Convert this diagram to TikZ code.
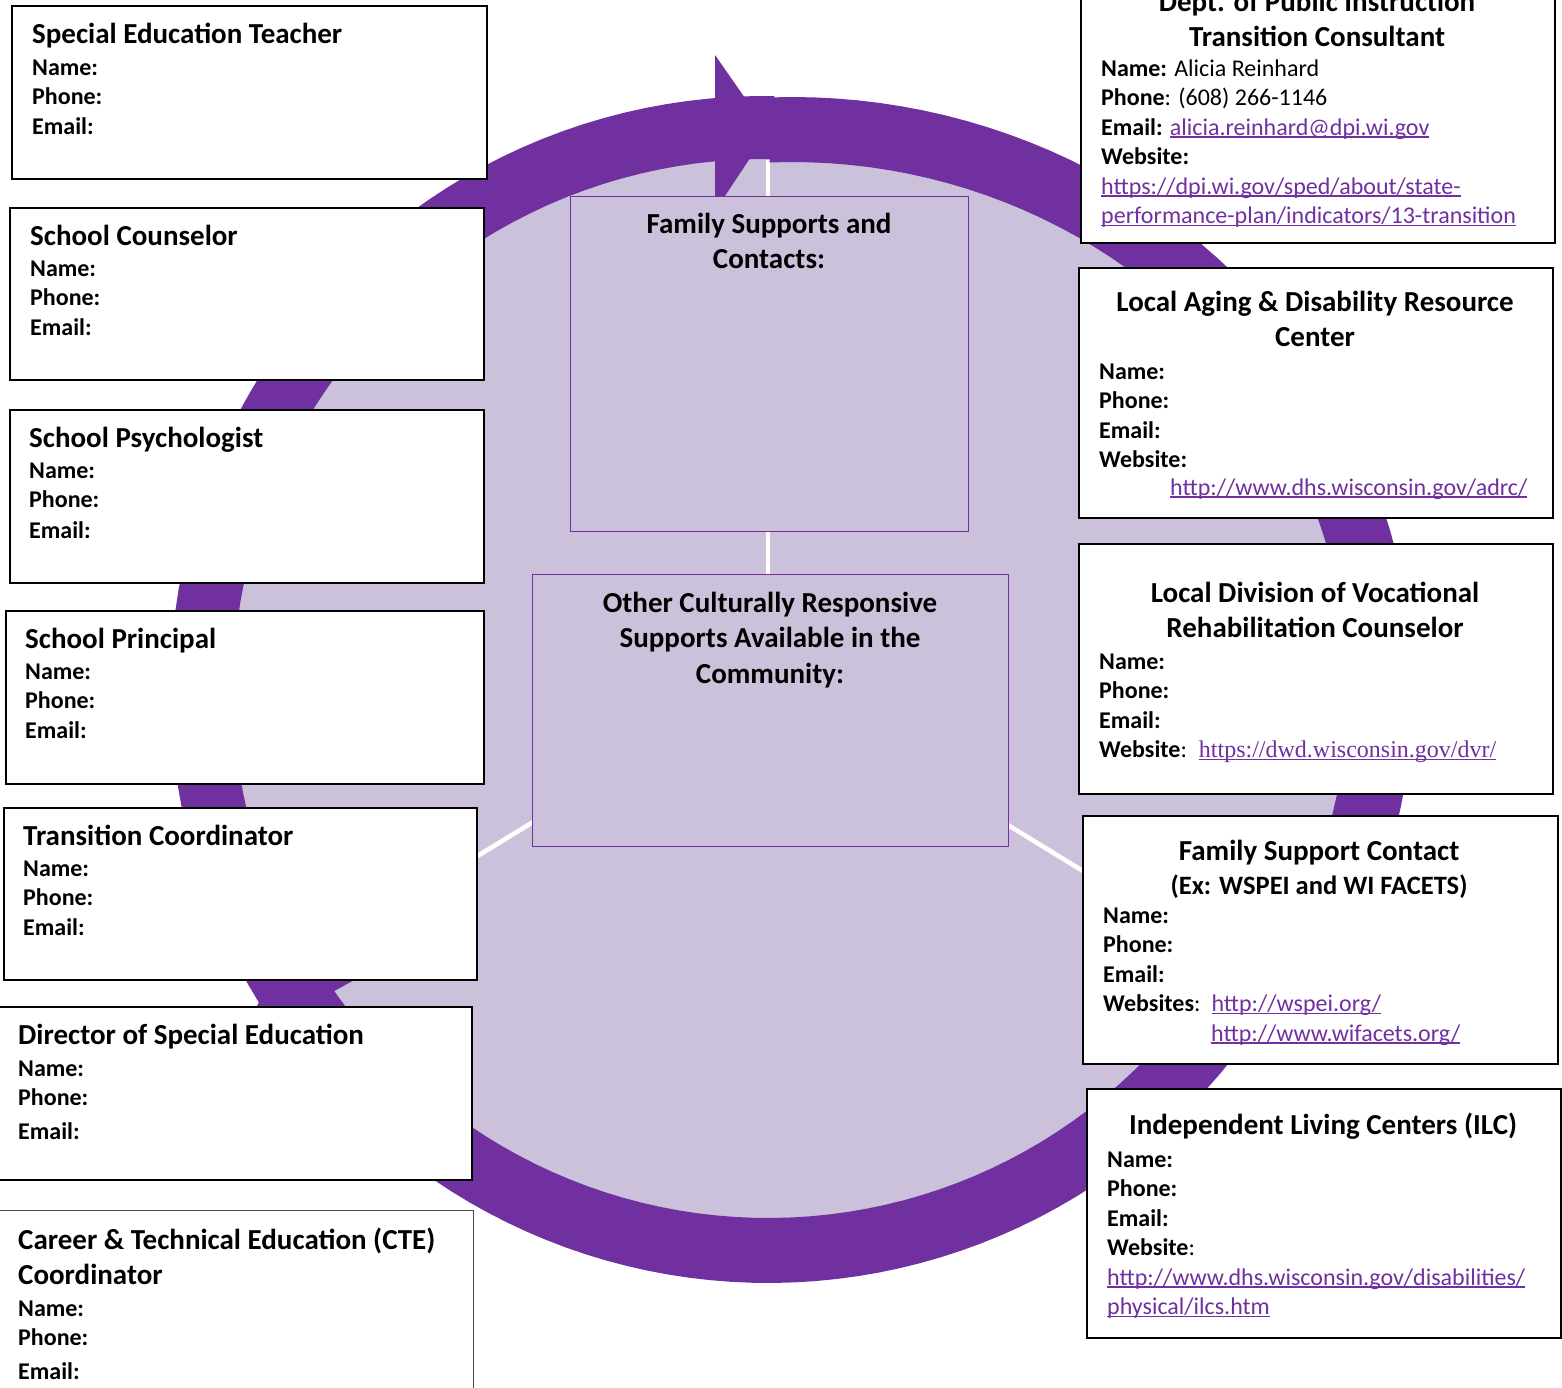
\documentclass[tikz,border=0pt]{standalone}
\usepackage{fontspec}
\setmainfont{Carlito}
\newfontfamily\urlserif{Liberation Serif}
\usepackage{tikz}
\usetikzlibrary{positioning}

\definecolor{ringpurple}{HTML}{7030A0}
\definecolor{pielav}{HTML}{CBC1DB}
\definecolor{linkpurple}{HTML}{7030A0}

\newcommand{\cardhead}{\fontsize{29}{35.5}\selectfont\bfseries}
\newcommand{\cardsub}{\fontsize{26.5}{32}\selectfont\bfseries}
\newcommand{\cardbody}{\fontsize{24}{29.5}\selectfont}
\newcommand{\weblink}[1]{\textcolor{linkpurple}{\setbox0\hbox{#1}\rlap{\rule[-2.6pt]{\wd0}{1.5pt}}\box0}}

\tikzset{
  card/.style={draw=black, line width=2pt, fill=white, inner sep=0pt, anchor=north west},
  hubcard/.style={draw=ringpurple, line width=1.4pt, fill=pielav, inner sep=0pt, anchor=north west},
  cardtitle/.style={font=\cardhead, inner sep=0pt, align=left, anchor=base west},
  cardtitlec/.style={font=\cardhead, inner sep=0pt, align=center, anchor=base},
  cardfields/.style={font=\cardbody, inner sep=0pt, align=left, anchor=base west},
  divider/.style={white, line width=4.5pt}
}

\begin{document}
\begin{tikzpicture}[x=1pt, y=-1pt]
\useasboundingbox (0,0) rectangle (1562,1387);
% pie behind the ring
\fill[pielav] (768,690) circle[radius=552pt];
\fill[pielav] (768,690) -- plot[domain=-92.5:30, samples=60] ({792+570*cos(\x)}, {690+545*sin(\x)}) -- cycle;
\coordinate (pivot) at (768,678);
\coordinate (div_top) at (768,160);
\coordinate (div_right) at (1245.5,970.6);
\coordinate (div_left) at (290.5,970.6);
\draw[divider] (pivot) -- (div_top);
\draw[divider] (pivot) -- (div_right);
\draw[divider] (pivot) -- (div_left);
% ring: left, right, bottom arcs
\fill[ringpurple] plot[domain=148:271, samples=60] ({764+594*cos(\x)}, {690+594*sin(\x)})
    -- plot[domain=271:148, samples=60] ({764+531*cos(\x)}, {690+531*sin(\x)}) -- cycle;
\fill[ringpurple] plot[domain=-92.3:30, samples=60] ({792+621*cos(\x)}, {690+593*sin(\x)})
    -- plot[domain=30:-92.3, samples=60] ({792+556*cos(\x)}, {690+528*sin(\x)}) -- cycle;
\fill[ringpurple] plot[domain=30:151, samples=60] ({768+593*cos(\x)}, {690+593*sin(\x)})
    -- plot[domain=151:30, samples=60] ({768+528*cos(\x)}, {690+528*sin(\x)}) -- cycle;
% arrow heads
\fill[ringpurple] (715,55) -- (768,131) -- (715,211) -- cycle;
\fill[ringpurple] (238.3,1044.3) -- (279.1,961) -- (374.8,968.6) -- cycle;
\fill[ringpurple] (1393.9,962.4) -- (1301.6,970.3) -- (1258.8,884.4) -- cycle;

% left column
\node[card, minimum width=475pt, minimum height=173pt] (sped_box) at (11,5) {};
\node[cardtitle] (sped_head) at (32,43) {Special Education Teacher};
\node[cardfields] (sped_info) at (32,134) {\textbf{Name:}\\\textbf{Phone:}\\\textbf{Email:}};

\node[card, minimum width=474pt, minimum height=172pt] (couns_box) at (9,207) {};
\node[cardtitle] (couns_head) at (30,245) {School Counselor};
\node[cardfields] (couns_info) at (30,335) {\textbf{Name:}\\\textbf{Phone:}\\\textbf{Email:}};

\node[card, minimum width=474pt, minimum height=173pt] (psych_box) at (9,409) {};
\node[cardtitle] (psych_head) at (29,447) {School Psychologist};
\node[cardfields] (psych_info) at (29,538) {\textbf{Name:}\\\textbf{Phone:}\\[1pt]\textbf{Email:}};

\node[card, minimum width=478pt, minimum height=173pt] (princ_box) at (5,610) {};
\node[cardtitle] (princ_head) at (25,648) {School Principal};
\node[cardfields] (princ_info) at (25,738) {\textbf{Name:}\\\textbf{Phone:}\\\textbf{Email:}};

\node[card, minimum width=473pt, minimum height=172pt] (trans_box) at (3,807) {};
\node[cardtitle] (trans_head) at (23,845) {Transition Coordinator};
\node[cardfields] (trans_info) at (23,935) {\textbf{Name:}\\\textbf{Phone:}\\\textbf{Email:}};

\node[card, minimum width=473pt, minimum height=173pt] (dir_box) at (-2,1006) {};
\node[cardtitle] (dir_head) at (18,1044) {Director of Special Education};
\node[cardfields] (dir_info) at (18,1139.5) {\textbf{Name:}\\\textbf{Phone:}\\[4.5pt]\textbf{Email:}};

\node[card, draw=black!70, line width=1.3pt, minimum width=475pt, minimum height=200pt] (cte_box) at (-2,1210) {};
\node[cardtitle] (cte_head) at (18,1284.5) {Career \& Technical Education (CTE)\\Coordinator};
\node[cardfields] (cte_info) at (18,1379.5) {\textbf{Name:}\\\textbf{Phone:}\\[4.5pt]\textbf{Email:}};

% right column
\node[card, minimum width=474pt, minimum height=272pt] (dpi_box) at (1080,-30) {};
\node[cardtitlec] (dpi_head) at (1317,46.5) {Dept. of Public Instruction\\Transition Consultant};
\node[cardfields] (dpi_info) at (1101,223.5) {\textbf{Name:} Alicia Reinhard\\\textbf{Phone}: (608) 266-1146\\
    \textbf{Email:} \weblink{alicia.reinhard@dpi.wi.gov}\\\textbf{Website:}\\
    \weblink{https://dpi.wi.gov/sped/about/state-}\\\weblink{performance-plan/indicators/13-transition}};

\node[card, minimum width=474pt, minimum height=250pt] (adrc_box) at (1078,267) {};
\node[cardtitlec] (adrc_head) at (1315,346.5) {Local Aging \& Disability Resource\\Center};
\node[cardfields] (adrc_info) at (1099,467.5) {\textbf{Name:}\\\textbf{Phone:}\\\textbf{Email:}\\\textbf{Website:}};
\node[cardfields] (adrc_url) at (1170,495) {\weblink{http://www.dhs.wisconsin.gov/adrc/}};

\node[card, minimum width=474pt, minimum height=250pt] (dvr_box) at (1078,543) {};
\node[cardtitlec] (dvr_head) at (1315,637.5) {Local Division of Vocational\\Rehabilitation Counselor};
\node[cardfields] (dvr_info) at (1099,757.5) {\textbf{Name:}\\\textbf{Phone:}\\\textbf{Email:}\\
    \textbf{Website}:\hspace{12pt}{\urlserif\weblink{https://dwd.wisconsin.gov/dvr/}}};

\node[card, minimum width=475pt, minimum height=248pt] (fsc_box) at (1082,815) {};
\node[cardtitlec] (fsc_head) at (1319,860) {Family Support Contact};
\node[cardtitlec, font=\cardsub] (fsc_sub) at (1319,894) {(Ex: WSPEI and WI FACETS)};
\node[cardfields] (fsc_info) at (1103,1011.5) {\textbf{Name:}\\\textbf{Phone:}\\\textbf{Email:}\\
    \textbf{Websites}:\hspace{11pt}\weblink{http://wspei.org/}};
\node[cardfields] (fsc_url) at (1211,1041) {\weblink{http://www.wifacets.org/}};

\node[card, minimum width=474pt, minimum height=249pt] (ilc_box) at (1086,1088) {};
\node[cardtitlec] (ilc_head) at (1323,1134) {Independent Living Centers (ILC)};
\node[cardfields] (ilc_info) at (1107,1314.5) {\textbf{Name:}\\\textbf{Phone:}\\\textbf{Email:}\\\textbf{Website}:\\
    \weblink{http://www.dhs.wisconsin.gov/disabilities/}\\\weblink{physical/ilcs.htm}};

% centre boxes
\node[hubcard, minimum width=398pt, minimum height=335pt] (fam_box) at (570,196) {};
\node[cardtitlec] (fam_head) at (769,268.5) {Family Supports and\\Contacts:};
\node[hubcard, minimum width=476pt, minimum height=272pt] (other_box) at (532,574) {};
\node[cardtitlec] (other_head) at (770,683) {Other Culturally Responsive\\Supports Available in the\\Community:};
\end{tikzpicture}
\end{document}
